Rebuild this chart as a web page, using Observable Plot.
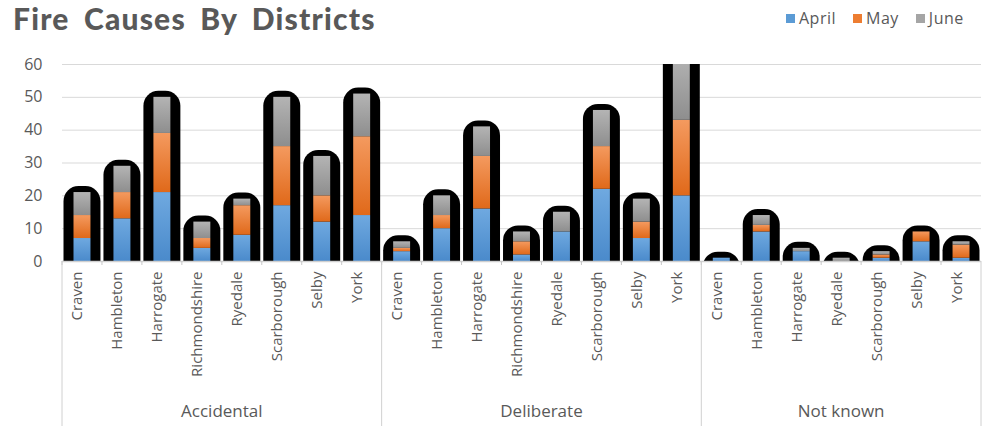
<!DOCTYPE html>
<html>
<head>
<meta charset="utf-8">
<script src="https://cdn.jsdelivr.net/npm/d3@7"></script>
<script src="https://cdn.jsdelivr.net/npm/@observablehq/plot@0.6"></script>
<style>
  html, body { margin: 0; padding: 0; background: #fff; }
  #wrap { position: relative; width: 994px; height: 426px; overflow: hidden; font-family: "Open Sans", sans-serif; color: #595959; }
  #title { position: absolute; left: 13px; top: 0px; font-family: Lato, sans-serif; font-weight: 900; font-size: 30px; color: #595959; letter-spacing: 1.2px; word-spacing: 6px; white-space: nowrap; }
  #legend { position: absolute; left: 786px; top: 7px; font-size: 16px; display: flex; align-items: center; white-space: nowrap; letter-spacing: 0.5px; }
  #legend .item { display: flex; align-items: center; margin-right: 17px; }
  #legend .sw { width: 9px; height: 9px; margin-right: 4px; display: inline-block; }
  #chart { position: absolute; left: 0; top: 50px; }
</style>
</head>
<body>
<div id="wrap">
  <div id="title">Fire Causes By Districts</div>
  <div id="legend"></div>
  <div id="chart"></div>
</div>
<script>
// ---- data ----
const causes = ["Accidental", "Deliberate", "Not known"];
const months = ["April", "May", "June"];
const monthColors = ["#5B9BD5", "#ED7D31", "#A5A5A5"];
const yTicks = [0, 10, 20, 30, 40, 50, 60];

const accidentalDistricts = ["Craven", "Hambleton", "Harrogate", "Richmondshire", "Ryedale", "Scarborough", "Selby", "York"];
const accidentalApril = [7, 13, 21, 4, 8, 17, 12, 14];
const accidentalMay   = [7, 8, 18, 3, 9, 18, 8, 24];
const accidentalJune  = [7, 8, 11, 5, 2, 15, 12, 13];

const deliberateDistricts = ["Craven", "Hambleton", "Harrogate", "Richmondshire", "Ryedale", "Scarborough", "Selby", "York"];
const deliberateApril = [3, 10, 16, 2, 9, 22, 7, 20];
const deliberateMay   = [1, 4, 16, 4, 0, 13, 5, 23];
const deliberateJune  = [2, 6, 9, 3, 6, 11, 7, 20];

const notKnownDistricts = ["Craven", "Hambleton", "Harrogate", "Ryedale", "Scarborough", "Selby", "York"];
const notKnownApril = [1, 9, 3, 0, 1, 6, 1];
const notKnownMay   = [0, 2, 0, 0, 1, 3, 4];
const notKnownJune  = [0, 3, 1, 1, 1, 0, 1];

// ---- build tables ----
const rows = [];
const totals = [];
const groups = [];
function addCause(cause, districts, series) {
  const groupKeys = [];
  districts.forEach((d, i) => {
    const key = cause + "|" + d;
    groupKeys.push(key);
    let t = 0;
    months.forEach((m, j) => {
      rows.push({key, cause, district: d, month: m, value: series[j][i]});
      t += series[j][i];
    });
    totals.push({key, total: t});
  });
  groups.push({cause, keys: groupKeys});
}
addCause("Accidental", accidentalDistricts, [accidentalApril, accidentalMay, accidentalJune]);
addCause("Deliberate", deliberateDistricts, [deliberateApril, deliberateMay, deliberateJune]);
addCause("Not known", notKnownDistricts, [notKnownApril, notKnownMay, notKnownJune]);
const keys = totals.map(d => d.key);

// ---- legend ----
const legend = document.getElementById("legend");
months.forEach((m, i) => {
  const it = document.createElement("span");
  it.className = "item";
  it.innerHTML = `<span class="sw" style="background:${monthColors[i]}"></span><span>${m}</span>`;
  legend.appendChild(it);
});

// ---- custom mark: category ticks, group separators and group labels ----
function groupAxis(index, scales, values, dimensions) {
  const x = scales.x;
  const step = x(keys[1]) - x(keys[0]);
  const yb = dimensions.height - dimensions.marginBottom;
  const g = d3.create("svg:g");
  keys.forEach(k => {
    g.append("line").attr("x1", x(k)).attr("x2", x(k)).attr("y1", yb).attr("y2", yb + 4)
      .attr("stroke", "#c8c8c8");
  });
  const bounds = groups.map(gr => x(gr.keys[0]));
  bounds.push(x(keys[keys.length - 1]) + step);
  bounds.forEach(bx => {
    g.append("line").attr("x1", bx).attr("x2", bx).attr("y1", yb).attr("y2", dimensions.height)
      .attr("stroke", "#d0d0d0");
  });
  groups.forEach(gr => {
    const cx = (x(gr.keys[0]) + x(gr.keys[gr.keys.length - 1]) + step) / 2;
    g.append("text").attr("x", cx).attr("y", yb + 156).attr("text-anchor", "middle")
      .attr("fill", "#595959").attr("font-size", 17).attr("font-family", "Open Sans")
      .text(gr.cause);
  });
  return g.node();
}

const chart = Plot.plot({
  width: 994,
  height: 376,
  marginTop: 14,
  marginBottom: 165,
  marginLeft: 62,
  marginRight: 13,
  style: {fontFamily: "Open Sans", fontSize: "14px", color: "#595959", background: "white", overflow: "visible"},
  x: {domain: keys, padding: 0, round: false, axis: null, label: null},
  y: {domain: [0, 60], axis: null, label: null},
  color: {type: "ordinal", domain: months, range: ["url(#gApril)", "url(#gMay)", "url(#gJune)"]},
  marks: [
    Plot.ruleY(yTicks.slice(1), {y: d => d, stroke: "#d9d9d9", strokeWidth: 1}),
    Plot.barY(totals, {x: "key", y: "total", fill: "black", rx: 15, insetLeft: 1.5, insetRight: 1.5, insetTop: -6, insetBottom: -20, clip: true}),
    Plot.barY(rows, {x: "key", y: "value", fill: "month", order: months, insetLeft: 11.5, insetRight: 11.5, clip: true}),
    Plot.ruleY([0], {stroke: "#d0d0d0", strokeWidth: 1.5}),
    Plot.text(yTicks, {y: d => d, text: d => String(d), frameAnchor: "left", textAnchor: "end", dx: -20, fontSize: 16, fill: "#595959", letterSpacing: "1px"}),
    Plot.text(keys, {x: d => d, text: d => d.split("|")[1], frameAnchor: "bottom", rotate: -90, textAnchor: "end", dy: 10, fontSize: 15, fill: "#595959"}),
    groupAxis
  ]
});

const defs = d3.select(chart).insert("defs", ":first-child");
const grads = [
  ["gApril", "#6fa9e0", "#4a8acb"],
  ["gMay", "#f49a5f", "#e0691a"],
  ["gJune", "#b4b4b4", "#8e8e8e"]
];
grads.forEach(([id, top, bottom]) => {
  const lg = defs.append("linearGradient").attr("id", id).attr("x1", 0).attr("y1", 0).attr("x2", 0).attr("y2", 1);
  lg.append("stop").attr("offset", "0%").attr("stop-color", top);
  lg.append("stop").attr("offset", "100%").attr("stop-color", bottom);
});

document.getElementById("chart").appendChild(chart);
</script>
</body>
</html>
